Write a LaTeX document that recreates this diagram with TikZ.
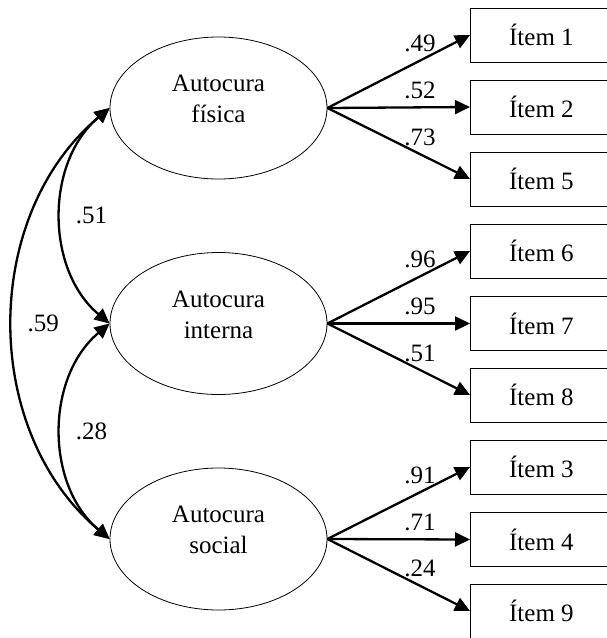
\documentclass[tikz,border=0pt]{standalone}
\usepackage{fontspec}
\setmainfont{Liberation Serif}
\usepackage{tikz}
\usetikzlibrary{shapes.geometric}
\usetikzlibrary{arrows.meta}
\newcommand{\semtip}{Triangle[length=15pt, width=14pt]}
\tikzstyle{latent}=[draw, ellipse, line width=0.8pt, minimum width=217pt, minimum height=142pt,
                    align=center, text depth=18pt]
\tikzstyle{indicator}=[draw, rectangle, line width=0.9pt, minimum width=142pt, minimum height=54pt, anchor=west]
\tikzstyle{loading}=[line width=2.3pt, -{\semtip}]
\tikzstyle{covar}=[line width=2.3pt, {\semtip}-{\semtip}, bend right=50]
\tikzstyle{semdiagram}=[x=1pt, y=1pt, font=\fontsize{25}{31}\selectfont]

\begin{document}
\begin{tikzpicture}[semdiagram]
        \useasboundingbox (0, 0) rectangle (606, -638);
        \node[latent] (L1) at (218.5, -108) {Autocura\\física};
        \node[latent] (L2) at (218.5, -323.5) {Autocura\\interna};
        \node[latent] (L3) at (218.5, -539) {Autocura\\social};
        \node[indicator] (I1) at (470, -35) {Ítem 1};
        \node[indicator] (I2) at (470, -107) {Ítem 2};
        \node[indicator] (I5) at (470, -179) {Ítem 5};
        \node[indicator] (I6) at (470, -251) {Ítem 6};
        \node[indicator] (I7) at (470, -323.5) {Ítem 7};
        \node[indicator] (I8) at (470, -395) {Ítem 8};
        \node[indicator] (I3) at (470, -467) {Ítem 3};
        \node[indicator] (I4) at (470, -539.5) {Ítem 4};
        \node[indicator] (I9) at (470, -611) {Ítem 9};
        % loadings, label above each line
        \draw[loading] (L1.east) -- (I1.west) node[pos=0.65, above=4pt] {.49};
        \draw[loading] (L1.east) -- (I2.west) node[pos=0.65, above=4pt] {.52};
        \draw[loading] (L1.east) -- (I5.west) node[pos=0.65, above=4pt] {.73};
        \draw[loading] (L2.east) -- (I6.west) node[pos=0.65, above=4pt] {.96};
        \draw[loading] (L2.east) -- (I7.west) node[pos=0.65, above=4pt] {.95};
        \draw[loading] (L2.east) -- (I8.west) node[pos=0.65, above=4pt] {.51};
        \draw[loading] (L3.east) -- (I3.west) node[pos=0.65, above=4pt] {.91};
        \draw[loading] (L3.east) -- (I4.west) node[pos=0.65, above=4pt] {.71};
        \draw[loading] (L3.east) -- (I9.west) node[pos=0.65, above=4pt] {.24};
        % correlations between the factors
        \draw[covar] (L1.west) to node[right=10pt] {.51} (L2.west);
        \draw[covar] (L2.west) to node[right=10pt] {.28} (L3.west);
        \draw[covar] (L1.west) to node[right=10pt] {.59} (L3.west);
    \end{tikzpicture}
\end{document}
